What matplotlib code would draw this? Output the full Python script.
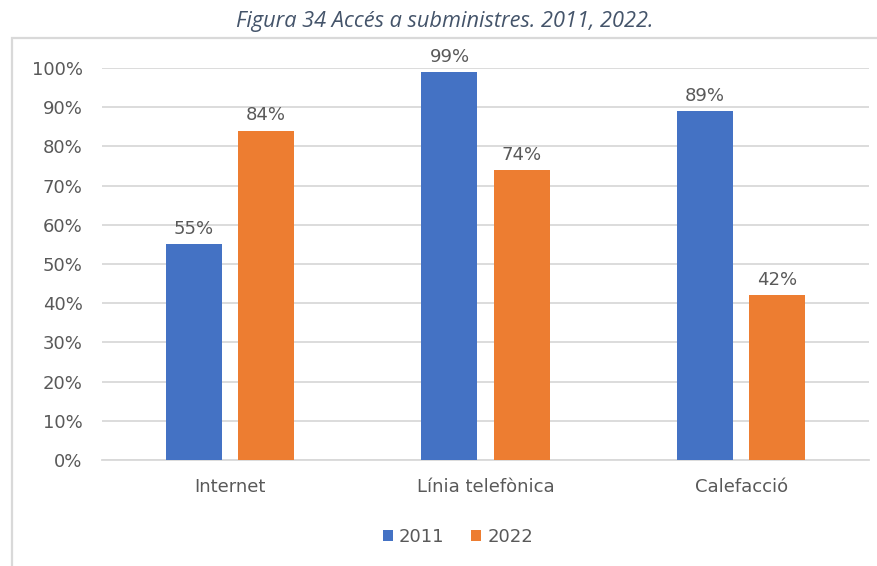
import matplotlib
matplotlib.use("Agg")
import matplotlib.pyplot as plt
from matplotlib.patches import Rectangle
from matplotlib.ticker import PercentFormatter
import numpy as np

categories = ["Internet", "Línia telefònica", "Calefacció"]
years = ["2011", "2022"]
values_2011 = [55, 99, 89]
values_2022 = [84, 74, 42]
yticks = [0, 10, 20, 30, 40, 50, 60, 70, 80, 90, 100]

colors = ["#4472C4", "#ED7D31"]
text_color = "#595959"
grid_color = "#D9D9D9"
font = ["DejaVu Sans"]
fs = 13

W, H = 878, 566
fig = plt.figure(figsize=(W / 100, H / 100), dpi=100)

# outer chart frame (open on the right/bottom edges of the figure)
frame = Rectangle((12 / W, -0.05), 1.2, (1 - 38 / H) + 0.05,
                  transform=fig.transFigure, fill=False,
                  edgecolor=grid_color, linewidth=1.6, zorder=0)
fig.patches.append(frame)

fig.text(445 / W, 1 - 21 / H, "Figura 34 Accés a subministres. 2011, 2022.",
         ha="center", va="center", fontsize=15.7, style="italic",
         color="#44546A", family=["Open Sans", "DejaVu Sans"])

left, right = 102 / W, 869 / W
bottom, top = 1 - 460 / H, 1 - 68 / H
ax = fig.add_axes([left, bottom, right - left, top - bottom])

x = np.arange(len(categories))
bw = 0.219
off = 0.141
series = [values_2011, values_2022]
for i, (vals, col, yr) in enumerate(zip(series, colors, years)):
    pos = x + (-off if i == 0 else off)
    bars = ax.bar(pos, vals, width=bw, color=col, label=yr, zorder=3)
    for b, v in zip(bars, vals):
        ax.text(b.get_x() + b.get_width() / 2, v + 1.6, f"{v}%",
                ha="center", va="bottom", fontsize=fs,
                color=text_color, family=font)

ax.set_xlim(-0.5, 2.5)
ax.set_ylim(0, 100)
ax.set_yticks(yticks)
ax.yaxis.set_major_formatter(PercentFormatter(decimals=0))
ax.grid(axis="y", color=grid_color, linewidth=1.3, zorder=0)
ax.set_axisbelow(True)
for s in ["top", "right", "left"]:
    ax.spines[s].set_visible(False)
ax.spines["bottom"].set_color(grid_color)
ax.spines["bottom"].set_linewidth(1.3)
ax.tick_params(axis="both", length=0, colors=text_color, labelsize=fs)
ax.tick_params(axis="y", pad=14)
ax.tick_params(axis="x", pad=13)
ax.set_xticks(x)
ax.set_xticklabels(categories)
for lab in ax.get_xticklabels() + ax.get_yticklabels():
    lab.set_family(font)
    lab.set_color(text_color)

leg = fig.legend(loc="center", bbox_to_anchor=(458 / W, 1 - 537 / H),
                 ncol=2, frameon=False, handlelength=0.55, handleheight=0.55,
                 handletextpad=0.35, columnspacing=1.5,
                 prop={"family": font, "size": fs})
for t in leg.get_texts():
    t.set_color(text_color)

fig.savefig("out.png", dpi=100)
